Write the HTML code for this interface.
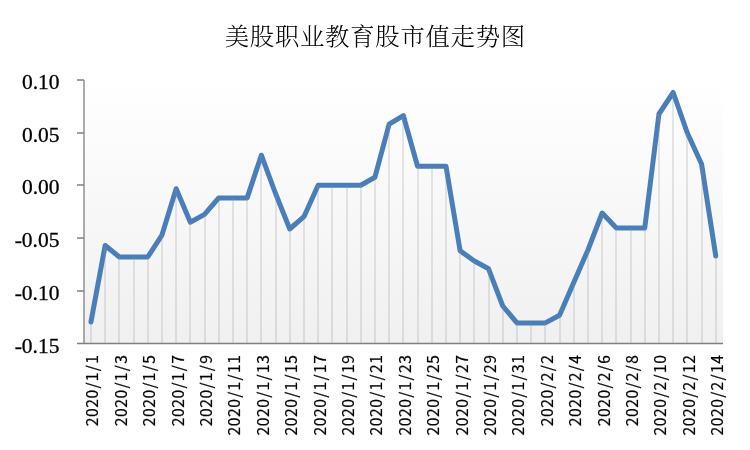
<!DOCTYPE html>
<html lang="zh-CN">
<head>
<meta charset="utf-8">
<title>美股职业教育股市值走势图</title>
<style>
html,body{margin:0;padding:0;background:#fff;}
body{width:750px;height:450px;overflow:hidden;}
svg{display:block;}
.title{font-family:"Liberation Serif","Noto Serif CJK SC",serif;font-size:24.4px;font-weight:300;letter-spacing:0.7px;fill:#000;}
.yl{font-family:"Liberation Serif",serif;font-size:21.5px;fill:#000;stroke:#000;stroke-width:0.3px;}
.xl{font-family:"Noto Sans CJK SC","Liberation Sans",sans-serif;font-size:15.6px;font-weight:400;fill:#000;stroke:#000;stroke-width:0.2px;}
</style>
</head>
<body>
<svg width="750" height="450" viewBox="0 0 750 450">
<defs>
<linearGradient id="bg" x1="0" y1="0" x2="0" y2="1">
<stop offset="0" stop-color="#ffffff"/>
<stop offset="1" stop-color="#f0f0f0"/>
</linearGradient>
</defs>
<rect x="0" y="0" width="750" height="450" fill="#ffffff"/>
<rect x="84" y="80" width="639" height="263.5" fill="url(#bg)"/>
<polyline points="90.95,322 105.15,245.5 119.35,257 133.55,257 147.75,257 161.95,235.1 176.15,188.7 190.35,222.2 204.55,214.4 218.75,197.9 232.95,197.9 247.15,197.9 261.35,155.2 275.55,193.5 289.75,229 303.95,216.7 318.15,185.2 332.35,185.2 346.55,185.2 360.75,185.2 374.95,177.2 389.15,124.2 403.35,115.6 417.55,166.2 431.75,166.2 445.95,166.2 460.15,250.8 474.35,261 488.55,268.8 502.75,306 516.95,322.9 531.15,322.9 545.35,322.9 559.55,315.3 573.75,282.5 587.95,250 602.15,213 616.35,228 630.55,228 644.75,228 658.95,114 673.15,92.5 687.35,133 701.55,164 715.75,256" fill="none" stroke="#4a7ebb" stroke-width="5" stroke-linejoin="round" stroke-linecap="round"/>
<path d="M91 322V343.5M105 245.5V343.5M119 257V343.5M134 257V343.5M148 257V343.5M162 235.1V343.5M176 188.7V343.5M190 222.2V343.5M205 214.4V343.5M219 197.9V343.5M233 197.9V343.5M247 197.9V343.5M261 155.2V343.5M276 193.5V343.5M290 229V343.5M304 216.7V343.5M318 185.2V343.5M332 185.2V343.5M347 185.2V343.5M361 185.2V343.5M375 177.2V343.5M389 124.2V343.5M403 115.6V343.5M418 166.2V343.5M432 166.2V343.5M446 166.2V343.5M460 250.8V343.5M474 261V343.5M489 268.8V343.5M503 306V343.5M517 322.9V343.5M531 322.9V343.5M545 322.9V343.5M560 315.3V343.5M574 282.5V343.5M588 250V343.5M602 213V343.5M616 228V343.5M631 228V343.5M645 228V343.5M659 114V343.5M673 92.5V343.5M687 133V343.5M702 164V343.5M716 256V343.5" fill="none" stroke="#909090" stroke-opacity="0.22" stroke-width="2"/>
<path d="M84 80V343.5 M77 343.5H723 M77 80H84M77 133H84M77 185H84M77 238H84M77 291H84M77 343.5H84" fill="none" stroke="#808080" stroke-width="1.3"/>
<text x="375.3" y="45.2" text-anchor="middle" class="title">美股职业教育股市值走势图</text>
<g><text x="59.5" y="89" text-anchor="end" class="yl">0.10</text>
<text x="59.5" y="141.7" text-anchor="end" class="yl">0.05</text>
<text x="59.5" y="194.4" text-anchor="end" class="yl">0.00</text>
<text x="59.5" y="247.1" text-anchor="end" class="yl">-0.05</text>
<text x="59.5" y="299.8" text-anchor="end" class="yl">-0.10</text>
<text x="59.5" y="352.5" text-anchor="end" class="yl">-0.15</text></g>
<g><text transform="translate(98.45 355.2) rotate(-90)" text-anchor="end" dx="0 0.62 0.62 0.62 1.25 1.25 1.25 1.25" class="xl">2020/1/1</text>
<text transform="translate(126.85 355.2) rotate(-90)" text-anchor="end" dx="0 0.62 0.62 0.62 1.25 1.25 1.25 1.25" class="xl">2020/1/3</text>
<text transform="translate(155.25 355.2) rotate(-90)" text-anchor="end" dx="0 0.62 0.62 0.62 1.25 1.25 1.25 1.25" class="xl">2020/1/5</text>
<text transform="translate(183.65 355.2) rotate(-90)" text-anchor="end" dx="0 0.62 0.62 0.62 1.25 1.25 1.25 1.25" class="xl">2020/1/7</text>
<text transform="translate(212.05 355.2) rotate(-90)" text-anchor="end" dx="0 0.62 0.62 0.62 1.25 1.25 1.25 1.25" class="xl">2020/1/9</text>
<text transform="translate(240.45 355.2) rotate(-90)" text-anchor="end" dx="0 0.62 0.62 0.62 1.25 1.25 1.25 1.25 0.62" class="xl">2020/1/11</text>
<text transform="translate(268.85 355.2) rotate(-90)" text-anchor="end" dx="0 0.62 0.62 0.62 1.25 1.25 1.25 1.25 0.62" class="xl">2020/1/13</text>
<text transform="translate(297.25 355.2) rotate(-90)" text-anchor="end" dx="0 0.62 0.62 0.62 1.25 1.25 1.25 1.25 0.62" class="xl">2020/1/15</text>
<text transform="translate(325.65 355.2) rotate(-90)" text-anchor="end" dx="0 0.62 0.62 0.62 1.25 1.25 1.25 1.25 0.62" class="xl">2020/1/17</text>
<text transform="translate(354.05 355.2) rotate(-90)" text-anchor="end" dx="0 0.62 0.62 0.62 1.25 1.25 1.25 1.25 0.62" class="xl">2020/1/19</text>
<text transform="translate(382.45 355.2) rotate(-90)" text-anchor="end" dx="0 0.62 0.62 0.62 1.25 1.25 1.25 1.25 0.62" class="xl">2020/1/21</text>
<text transform="translate(410.85 355.2) rotate(-90)" text-anchor="end" dx="0 0.62 0.62 0.62 1.25 1.25 1.25 1.25 0.62" class="xl">2020/1/23</text>
<text transform="translate(439.25 355.2) rotate(-90)" text-anchor="end" dx="0 0.62 0.62 0.62 1.25 1.25 1.25 1.25 0.62" class="xl">2020/1/25</text>
<text transform="translate(467.65 355.2) rotate(-90)" text-anchor="end" dx="0 0.62 0.62 0.62 1.25 1.25 1.25 1.25 0.62" class="xl">2020/1/27</text>
<text transform="translate(496.05 355.2) rotate(-90)" text-anchor="end" dx="0 0.62 0.62 0.62 1.25 1.25 1.25 1.25 0.62" class="xl">2020/1/29</text>
<text transform="translate(524.45 355.2) rotate(-90)" text-anchor="end" dx="0 0.62 0.62 0.62 1.25 1.25 1.25 1.25 0.62" class="xl">2020/1/31</text>
<text transform="translate(552.85 355.2) rotate(-90)" text-anchor="end" dx="0 0.62 0.62 0.62 1.25 1.25 1.25 1.25" class="xl">2020/2/2</text>
<text transform="translate(581.25 355.2) rotate(-90)" text-anchor="end" dx="0 0.62 0.62 0.62 1.25 1.25 1.25 1.25" class="xl">2020/2/4</text>
<text transform="translate(609.65 355.2) rotate(-90)" text-anchor="end" dx="0 0.62 0.62 0.62 1.25 1.25 1.25 1.25" class="xl">2020/2/6</text>
<text transform="translate(638.05 355.2) rotate(-90)" text-anchor="end" dx="0 0.62 0.62 0.62 1.25 1.25 1.25 1.25" class="xl">2020/2/8</text>
<text transform="translate(666.45 355.2) rotate(-90)" text-anchor="end" dx="0 0.62 0.62 0.62 1.25 1.25 1.25 1.25 0.62" class="xl">2020/2/10</text>
<text transform="translate(694.85 355.2) rotate(-90)" text-anchor="end" dx="0 0.62 0.62 0.62 1.25 1.25 1.25 1.25 0.62" class="xl">2020/2/12</text>
<text transform="translate(723.25 355.2) rotate(-90)" text-anchor="end" dx="0 0.62 0.62 0.62 1.25 1.25 1.25 1.25 0.62" class="xl">2020/2/14</text></g>
</svg>
</body>
</html>
